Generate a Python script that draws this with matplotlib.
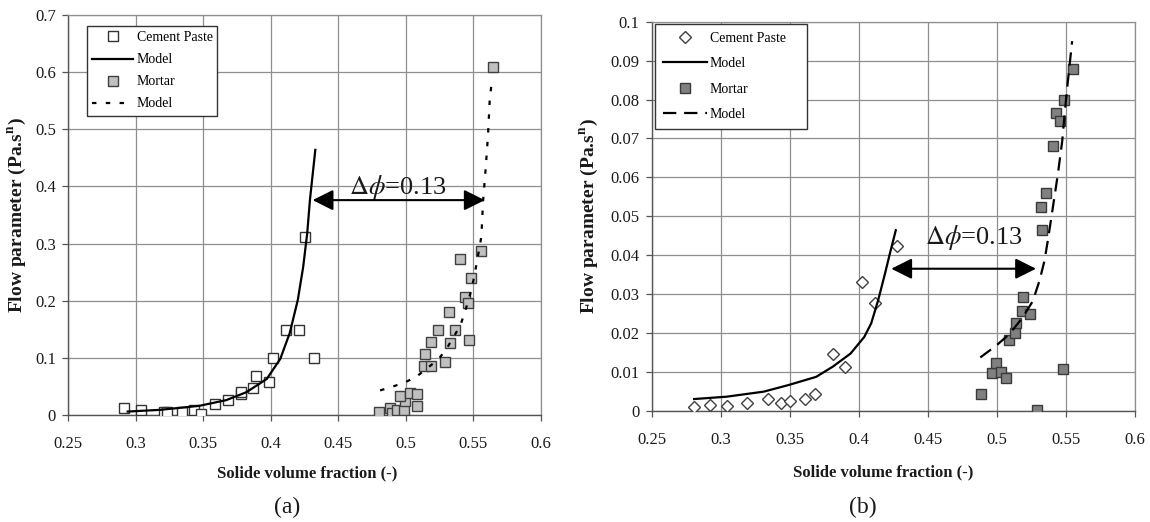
import matplotlib
matplotlib.use("Agg")
import matplotlib.pyplot as plt
from matplotlib.ticker import FormatStrFormatter

plt.rcParams['font.family'] = ['Liberation Serif', 'DejaVu Serif']
plt.rcParams['mathtext.fontset'] = 'stix'

# ---- (a) flow parameter over a large range ----
a_paste_x = [0.291, 0.304, 0.321, 0.323, 0.334, 0.343, 0.348, 0.359, 0.368, 0.378,
             0.378, 0.387, 0.389, 0.399, 0.402, 0.411, 0.421, 0.425, 0.432]
a_paste_y = [0.013, 0.009, 0.005, 0.005, 0.005, 0.009, 0.001, 0.019, 0.026, 0.036,
             0.041, 0.047, 0.069, 0.058, 0.099, 0.149, 0.149, 0.312, 0.099]
a_paste_model_x = [0.294, 0.318, 0.347, 0.367, 0.382, 0.397, 0.407, 0.414, 0.420,
                   0.424, 0.427, 0.429, 0.433]
a_paste_model_y = [0.006, 0.009, 0.016, 0.026, 0.040, 0.063, 0.098, 0.143, 0.201,
                   0.259, 0.318, 0.376, 0.464]
a_mortar_x = [0.480, 0.4886, 0.4897, 0.4936, 0.4986, 0.4993, 0.4961, 0.503, 0.508, 0.508,
              0.5137, 0.5186, 0.5145, 0.5186, 0.524, 0.5294, 0.533, 0.5363, 0.5317,
              0.5404, 0.5436, 0.546, 0.5472, 0.548, 0.5556, 0.5644]
a_mortar_y = [0.005, 0.013, 0.004, 0.009, 0.008, 0.024, 0.034, 0.039, 0.036, 0.016,
              0.086, 0.085, 0.107, 0.127, 0.148, 0.092, 0.126, 0.149, 0.181,
              0.273, 0.207, 0.196, 0.132, 0.239, 0.287, 0.609]
a_mortar_model_x = [0.481, 0.4907, 0.4995, 0.5084, 0.524, 0.530, 0.5403, 0.5437, 0.549,
                    0.5526, 0.556, 0.5573, 0.5593, 0.561, 0.5622, 0.564]
a_mortar_model_y = [0.043, 0.050, 0.057, 0.068, 0.097, 0.115, 0.156, 0.179, 0.222,
                    0.266, 0.312, 0.375, 0.434, 0.492, 0.551, 0.589]
a_arrow_x = [0.431, 0.5585]
a_arrow_y = 0.376
a_yticks = [0, 0.1, 0.2, 0.3, 0.4, 0.5, 0.6, 0.7]

# ---- (b) flow parameter over a small range ----
b_paste_x = [0.2805, 0.2918, 0.3045, 0.3188, 0.3338, 0.3433, 0.3500, 0.3608, 0.3683,
             0.3813, 0.3898, 0.4025, 0.4118, 0.4275]
b_paste_y = [0.0010, 0.0015, 0.0012, 0.0021, 0.0031, 0.0021, 0.0025, 0.0031, 0.0043,
             0.0147, 0.0112, 0.0332, 0.0276, 0.0423]
b_paste_model_x = [0.2805, 0.304, 0.331, 0.349, 0.369, 0.381, 0.394, 0.404, 0.409,
                   0.414, 0.419, 0.4225, 0.4268]
b_paste_model_y = [0.0030, 0.0036, 0.0049, 0.0066, 0.0087, 0.0113, 0.0147, 0.0190,
                   0.0225, 0.0284, 0.0353, 0.0404, 0.0464]
b_mortar_x = [0.4883, 0.4963, 0.4993, 0.503, 0.507, 0.5088, 0.513, 0.514, 0.518, 0.519,
              0.524, 0.529, 0.532, 0.5325, 0.5358, 0.541, 0.543, 0.5458, 0.5478, 0.549,
              0.555]
b_mortar_y = [0.0043, 0.0096, 0.0122, 0.0100, 0.0083, 0.0182, 0.0199, 0.0226, 0.0257,
              0.0293, 0.0249, 0.0003, 0.0524, 0.0464, 0.0560, 0.0680, 0.0766, 0.0745,
              0.0107, 0.0800, 0.0878]
b_mortar_model_x = [0.4881, 0.4995, 0.5092, 0.5189, 0.5262, 0.5310, 0.5346, 0.5370,
                    0.5407, 0.5443, 0.5475, 0.5492, 0.5516, 0.5547]
b_mortar_model_y = [0.0137, 0.0167, 0.0197, 0.0240, 0.0282, 0.0334, 0.0385, 0.0436,
                    0.0522, 0.0607, 0.0693, 0.0761, 0.0847, 0.0950]
b_arrow_x = [0.4235, 0.5285]
b_arrow_y = 0.0365
b_yticks = [0, 0.01, 0.02, 0.03, 0.04, 0.05, 0.06, 0.07, 0.08, 0.09, 0.1]

x_ticks = [0.25, 0.3, 0.35, 0.4, 0.45, 0.5, 0.55, 0.6]
delta_label = r"$\Delta\phi$=0.13"

GRID = '#8f8f8f'
TXT = '#1a1a1a'

fig = plt.figure(figsize=(11.5, 5.22), dpi=100)
ax_a = fig.add_axes([0.0594, 0.2050, 0.4108, 0.7663])
ax_b = fig.add_axes([0.5670, 0.2132, 0.4196, 0.7452])


def style_axes(ax, yticks, ymax):
    ax.set_xlim(0.25, 0.6)
    ax.set_ylim(0, ymax)
    ax.set_xticks(x_ticks)
    ax.set_yticks(yticks)
    ax.xaxis.set_major_formatter(FormatStrFormatter('%g'))
    ax.yaxis.set_major_formatter(FormatStrFormatter('%g'))
    ax.grid(True, color=GRID, lw=0.9)
    ax.set_axisbelow(True)
    for side in ('top', 'right'):
        ax.spines[side].set_color(GRID)
        ax.spines[side].set_linewidth(0.9)
    for side in ('left', 'bottom'):
        ax.spines[side].set_color('#555555')
        ax.spines[side].set_linewidth(1.0)
    ax.tick_params(direction='out', length=4, width=0.9, color='#555555',
                   labelsize=12, labelcolor=TXT)
    ax.tick_params(axis='y', pad=5)
    ax.tick_params(axis='x', pad=11)
    ax.set_xlabel('Solide volume fraction (-)', fontsize=12, fontweight='bold', color=TXT)
    ax.set_ylabel(r'Flow parameter (Pa.s$^{\mathbf{n}}$)', fontsize=14,
                  fontweight='bold', color=TXT)


# panel (a)
style_axes(ax_a, a_yticks, 0.7)
ax_a.plot(a_paste_x, a_paste_y, ls='none', marker='s', ms=6.5, mfc='white',
          mec='#333333', mew=1.0, label='Cement Paste', zorder=3)
ax_a.plot(a_paste_model_x, a_paste_model_y, color='black', lw=1.6, label='Model', zorder=4)
ax_a.plot(a_mortar_x, a_mortar_y, ls='none', marker='s', ms=6.5, mfc='#c0c0c0',
          mec='#404040', mew=1.0, label='Mortar', zorder=3)
ax_a.plot(a_mortar_model_x, a_mortar_model_y, color='black', lw=1.6,
          ls=(0, (2.0, 4.2)), label='Model', zorder=4)
ax_a.annotate('', xy=(a_arrow_x[0], a_arrow_y), xytext=(a_arrow_x[1], a_arrow_y),
              arrowprops=dict(arrowstyle='<|-|>,head_length=0.9,head_width=0.45',
                              mutation_scale=14, lw=1.5, color='black',
                              shrinkA=0, shrinkB=0), zorder=5)
ax_a.text(0.494, 0.398, delta_label, fontsize=19, ha='center', va='center', color=TXT)
leg_a = ax_a.legend(loc='upper left', bbox_to_anchor=(0.039, 0.5, 0.275, 0.473),
                    mode='expand', fontsize=10, frameon=True, fancybox=False,
                    framealpha=1, edgecolor='#333333', borderpad=0.4, labelspacing=0.65,
                    handlelength=2.95, handletextpad=0.25, borderaxespad=0, numpoints=1)
leg_a.get_frame().set_linewidth(1.0)
ax_a.xaxis.set_label_coords(0.505, -0.125)
ax_a.yaxis.set_label_coords(-0.085, 0.5)

# panel (b)
style_axes(ax_b, b_yticks, 0.1)
ax_b.plot(b_paste_x, b_paste_y, ls='none', marker='D', ms=6.5, mfc='white',
          mec='#404040', mew=1.0, label='Cement Paste', zorder=3)
ax_b.plot(b_paste_model_x, b_paste_model_y, color='black', lw=1.6, label='Model', zorder=4)
ax_b.plot(b_mortar_x, b_mortar_y, ls='none', marker='s', ms=7, mfc='#808080',
          mec='#3a3a3a', mew=1.0, label='Mortar', zorder=3)
ax_b.plot(b_mortar_model_x, b_mortar_model_y, color='black', lw=1.6,
          ls=(0, (6, 3.5)), label='Model', zorder=4)
ax_b.annotate('', xy=(b_arrow_x[0], b_arrow_y), xytext=(b_arrow_x[1], b_arrow_y),
              arrowprops=dict(arrowstyle='<|-|>,head_length=0.9,head_width=0.45',
                              mutation_scale=14, lw=1.5, color='black',
                              shrinkA=0, shrinkB=0), zorder=5)
ax_b.text(0.4837, 0.0444, delta_label, fontsize=19, ha='center', va='center', color=TXT)
leg_b = ax_b.legend(loc='upper left', bbox_to_anchor=(0.0062, 0.5, 0.315, 0.494),
                    mode='expand', fontsize=10, frameon=True, fancybox=False,
                    framealpha=1, edgecolor='#333333', borderpad=0.55, labelspacing=0.9,
                    handlelength=3.2, handletextpad=0.2, borderaxespad=0, numpoints=1)
leg_b.get_frame().set_linewidth(1.0)
ax_b.xaxis.set_label_coords(0.479, -0.137)
ax_b.yaxis.set_label_coords(-0.108, 0.5)

fig.text(287 / 1150, 1 - 507 / 522, '(a)', fontsize=17, ha='center', va='center', color=TXT)
fig.text(863 / 1150, 1 - 507 / 522, '(b)', fontsize=17, ha='center', va='center', color=TXT)

fig.savefig('out.png', dpi=100, facecolor='white')
